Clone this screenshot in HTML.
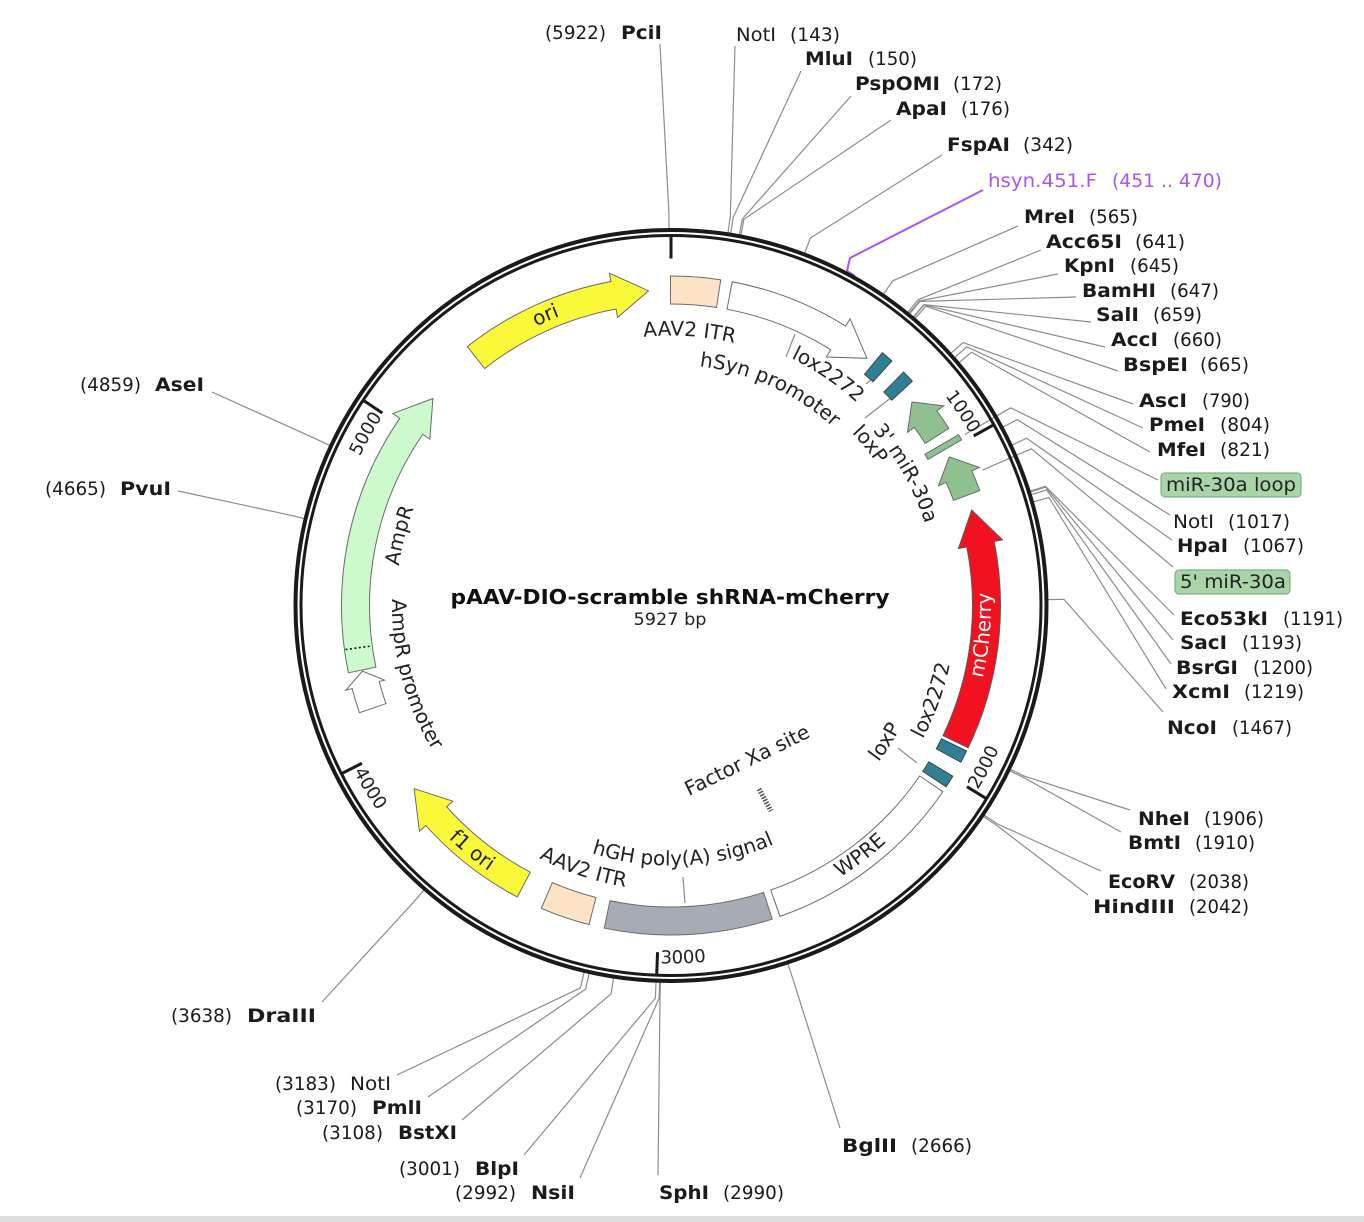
<!DOCTYPE html>
<html><head><meta charset="utf-8"><style>
html,body{margin:0;padding:0;background:#fff;}
svg{display:block;}
text{font-family:"DejaVu Sans","Liberation Sans",sans-serif;}
</style></head><body>
<svg width="1364" height="1222" viewBox="0 0 1364 1222" xmlns="http://www.w3.org/2000/svg">
<defs>
 <path id="cw310" d="M671,915.5 A310,310 0 1 1 671,295.5 A310,310 0 1 1 671,915.5"/>
 <path id="cw270" d="M671,875.5 A270,270 0 1 1 671,335.5 A270,270 0 1 1 671,875.5"/>
 <path id="cw241" d="M671,846.5 A241,241 0 1 1 671,364.5 A241,241 0 1 1 671,846.5"/>
 <path id="cw275" d="M671,880.5 A275,275 0 1 1 671,330.5 A275,275 0 1 1 671,880.5"/>
 <path id="cw250" d="M671,855.5 A250,250 0 1 1 671,355.5 A250,250 0 1 1 671,855.5"/>
 <path id="cw267" d="M671,872.5 A267,267 0 1 1 671,338.5 A267,267 0 1 1 671,872.5"/>
 <path id="cw345" d="M671,950.5 A345,345 0 1 1 671,260.5 A345,345 0 1 1 671,950.5"/>
 <path id="ccw320" d="M671,285.5 A320,320 0 1 0 671,925.5 A320,320 0 1 0 671,285.5"/>
 <path id="ccw285" d="M671,320.5 A285,285 0 1 0 671,890.5 A285,285 0 1 0 671,320.5"/>
 <path id="ccw260" d="M671,345.5 A260,260 0 1 0 671,865.5 A260,260 0 1 0 671,345.5"/>
 <path id="ccw322" d="M671,283.5 A322,322 0 1 0 671,927.5 A322,322 0 1 0 671,283.5"/>
 <path id="ccw279" d="M671,326.5 A279,279 0 1 0 671,884.5 A279,279 0 1 0 671,326.5"/>
 <path id="ccw358" d="M671,247.5 A358,358 0 1 0 671,963.5 A358,358 0 1 0 671,247.5"/>
</defs>
<rect x="0" y="0" width="1364" height="1222" fill="#fff"/>
<rect x="0" y="1216" width="1364" height="6" fill="#dedede"/>

<!-- restriction site leader lines -->
<g fill="none" stroke="#8c8c8c" stroke-width="1.2">
<polyline points="669.0,228.5 668.9,212.5 660,44"/>
<polyline points="727.9,232.8 730.3,217.0 735,46"/>
<polyline points="730.7,233.3 733.2,217.5 801,71"/>
<polyline points="739.4,234.8 742.3,219.0 851,96"/>
<polyline points="740.9,235.1 743.9,219.3 891,120"/>
<polyline points="804.7,253.0 810.4,238.0 942,155"/>
<polyline points="883.6,294.1 892.6,280.9 1018,226"/>
<polyline points="907.9,312.2 918.0,299.8 1041,250"/>
<polyline points="909.2,313.3 919.3,300.9 1058,274"/>
<polyline points="909.8,313.8 919.9,301.4 1076,297"/>
<polyline points="913.5,316.8 923.8,304.6 1091,322"/>
<polyline points="913.8,317.1 924.1,304.9 1105,347"/>
<polyline points="915.3,318.3 925.7,306.2 1118,371"/>
<polyline points="951.1,353.2 963.0,342.5 1133,404"/>
<polyline points="954.8,357.4 966.8,346.8 1143,428"/>
<polyline points="959.3,362.5 971.5,352.2 1150,452"/>
<polyline points="964.9,434.5 1010.7,407.8 1158,480"/>
<polyline points="1003.1,427.1 1017.2,419.6 1170,515"/>
<polyline points="1012.1,445.1 1026.6,438.2 1172,540"/>
<polyline points="982.8,469.9 1031.4,448.8 1173,567"/>
<polyline points="1030.2,491.1 1045.5,486.3 1174,615"/>
<polyline points="1030.5,491.9 1045.7,487.1 1173,640"/>
<polyline points="1031.3,494.6 1046.6,489.9 1171,664"/>
<polyline points="1033.5,501.8 1048.9,497.4 1166,689"/>
<polyline points="1048.0,599.6 1064.0,599.3 1163,712"/>
<polyline points="1010.5,769.4 1024.9,776.3 1130,810"/>
<polyline points="1009.8,770.8 1024.2,777.8 1121,832"/>
<polyline points="984.3,815.2 997.6,824.0 1101,871"/>
<polyline points="983.5,816.5 996.7,825.4 1088,895"/>
<polyline points="787.9,963.9 792.9,979.1 840,1128"/>
<polyline points="660.4,982.4 660.0,998.3 658,1175"/>
<polyline points="659.6,982.3 659.1,998.3 580,1178"/>
<polyline points="656.0,982.2 655.4,998.2 524,1155"/>
<polyline points="613.5,978.1 611.0,993.9 462,1120"/>
<polyline points="589.1,973.5 585.6,989.1 428,1097"/>
<polyline points="584.1,972.4 580.4,987.9 397,1075"/>
<polyline points="423.8,890.2 413.4,902.3 322,1002"/>
<polyline points="304.2,518.5 288.6,514.8 178,491"/>
<polyline points="329.7,445.4 315.2,438.6 212,392"/>
<!-- feature label leaders -->
<line x1="795" y1="334" x2="786" y2="357"/>
<line x1="866" y1="384" x2="874" y2="377"/>
<line x1="865" y1="418" x2="892" y2="397"/>
<line x1="683" y1="877" x2="685" y2="903"/>
<line x1="898" y1="748" x2="917" y2="763"/>
</g>

<!-- primer -->
<polyline points="983,190 850,258 847,271 855,276" fill="none" stroke="#a855f7" stroke-width="2"/>

<!-- backbone circle -->
<circle cx="671" cy="605.5" r="375.5" fill="none" stroke="#1a1a1a" stroke-width="4"/>
<circle cx="671" cy="605.5" r="370" fill="none" stroke="#1a1a1a" stroke-width="3"/>

<!-- ticks -->
<g stroke="#1a1a1a" stroke-width="3">
<line x1="671" y1="236.5" x2="671" y2="258.5"/>
<line x1="671" y1="236.5" x2="671" y2="258.5" transform="rotate(60.74 671 605.5)"/>
<line x1="671" y1="236.5" x2="671" y2="258.5" transform="rotate(121.48 671 605.5)"/>
<line x1="671" y1="236.5" x2="671" y2="258.5" transform="rotate(182.22 671 605.5)"/>
<line x1="671" y1="236.5" x2="671" y2="258.5" transform="rotate(242.96 671 605.5)"/>
<line x1="671" y1="236.5" x2="671" y2="258.5" transform="rotate(303.70 671 605.5)"/>
</g>

<!-- features -->
<g fill="none">
<!-- AAV2 ITR top -->
<circle cx="671" cy="605.5" r="315.5" stroke="#6b6b6b" stroke-width="29" pathLength="360" stroke-dasharray="8.96 400" transform="rotate(-90.18 671 605.5)"/>
<circle cx="671" cy="605.5" r="315.5" stroke="#fde2c6" stroke-width="27" pathLength="360" stroke-dasharray="8.6 400" transform="rotate(-90 671 605.5)"/>
<!-- hSyn promoter -->
<circle cx="671" cy="605.5" r="315.5" stroke="#6b6b6b" stroke-width="29" pathLength="360" stroke-dasharray="21.38 400" transform="rotate(-79.38 671 605.5)"/>
<polygon points="671,267.5 706.2,292 671,312.5" fill="#fff" stroke="#6b6b6b" stroke-width="1" transform="rotate(32 671 605.5)"/>
<circle cx="671" cy="605.5" r="315.5" stroke="#fff" stroke-width="27" pathLength="360" stroke-dasharray="21.5 400" transform="rotate(-79.2 671 605.5)"/>
<!-- ori -->
<circle cx="671" cy="605.5" r="315.5" stroke="#6b6b6b" stroke-width="29" pathLength="360" stroke-dasharray="27.78 400" transform="rotate(231.72 671 605.5)"/>
<polygon points="671,267.5 706.2,292 671,312.5" fill="#f9f93a" stroke="#6b6b6b" stroke-width="1" transform="rotate(349.5 671 605.5)"/>
<circle cx="671" cy="605.5" r="315.5" stroke="#f9f93a" stroke-width="27" pathLength="360" stroke-dasharray="27.9 400" transform="rotate(231.9 671 605.5)"/>
<!-- AmpR -->
<circle cx="671" cy="605.5" r="315.5" stroke="#6b6b6b" stroke-width="29" pathLength="360" stroke-dasharray="46.48 400" transform="rotate(168.12 671 605.5)"/>
<polygon points="671,267.5 706.2,292 671,312.5" fill="#ccfacc" stroke="#6b6b6b" stroke-width="1" transform="rotate(304.6 671 605.5)"/>
<circle cx="671" cy="605.5" r="315.5" stroke="#ccfacc" stroke-width="27" pathLength="360" stroke-dasharray="46.6 400" transform="rotate(168.3 671 605.5)"/>
<line x1="671" y1="277" x2="671" y2="303.5" stroke="#111" stroke-width="1.6" stroke-dasharray="2 2.5" transform="rotate(262.3 671 605.5)"/>
<!-- AmpR promoter -->
<circle cx="671" cy="605.5" r="315.5" stroke="#6b6b6b" stroke-width="29" pathLength="360" stroke-dasharray="4.48 400" transform="rotate(160.92 671 605.5)"/>
<polygon points="671,269.5 685.3,290.3 671,309.5" fill="#fff" stroke="#6b6b6b" stroke-width="1" transform="rotate(255.4 671 605.5)"/>
<circle cx="671" cy="605.5" r="315.5" stroke="#fff" stroke-width="27" pathLength="360" stroke-dasharray="4.6 400" transform="rotate(161.1 671 605.5)"/>
<!-- f1 ori -->
<circle cx="671" cy="605.5" r="315.5" stroke="#6b6b6b" stroke-width="29" pathLength="360" stroke-dasharray="20.38 400" transform="rotate(117.72 671 605.5)"/>
<polygon points="671,267.5 706.2,292 671,312.5" fill="#f9f93a" stroke="#6b6b6b" stroke-width="1" transform="rotate(228.1 671 605.5)"/>
<circle cx="671" cy="605.5" r="315.5" stroke="#f9f93a" stroke-width="27" pathLength="360" stroke-dasharray="20.5 400" transform="rotate(117.9 671 605.5)"/>
<!-- mCherry -->
<circle cx="671" cy="605.5" r="315.5" stroke="#5a5a5a" stroke-width="29" pathLength="360" stroke-dasharray="36.88 400" transform="rotate(-11.2 671 605.5)"/>
<polygon points="671,267.5 635.8,292 671,312.5" fill="#f2121f" stroke="#5a5a5a" stroke-width="1" transform="rotate(78.8 671 605.5)"/>
<circle cx="671" cy="605.5" r="315.5" stroke="#f2121f" stroke-width="27" pathLength="360" stroke-dasharray="37.0 400" transform="rotate(-11.5 671 605.5)"/>
<!-- 3' miR-30a -->
<circle cx="671" cy="605.5" r="315.5" stroke="#6b6b6b" stroke-width="29" pathLength="360" stroke-dasharray="3.78 400" transform="rotate(-36.2 671 605.5)"/>
<polygon points="671,267.5 649,290.8 671,312.5" fill="#8fc08f" stroke="#6b6b6b" stroke-width="1" transform="rotate(53.8 671 605.5)"/>
<circle cx="671" cy="605.5" r="315.5" stroke="#8fc08f" stroke-width="27" pathLength="360" stroke-dasharray="3.9 400" transform="rotate(-36.5 671 605.5)"/>
<!-- 5' miR-30a -->
<circle cx="671" cy="605.5" r="315.5" stroke="#6b6b6b" stroke-width="29" pathLength="360" stroke-dasharray="3.78 400" transform="rotate(-24.1 671 605.5)"/>
<polygon points="671,267.5 649,290.8 671,312.5" fill="#8fc08f" stroke="#6b6b6b" stroke-width="1" transform="rotate(65.9 671 605.5)"/>
<circle cx="671" cy="605.5" r="315.5" stroke="#8fc08f" stroke-width="27" pathLength="360" stroke-dasharray="3.9 400" transform="rotate(-24.4 671 605.5)"/>
<!-- miR-30a loop -->
<rect x="668" y="271" width="6" height="39" fill="#8fc08f" stroke="#6b6b6b" stroke-width="1" transform="rotate(59.8 671 605.5)"/>
<!-- lox sites -->
<circle cx="671" cy="605.5" r="315.5" stroke="#444" stroke-width="29" pathLength="360" stroke-dasharray="2.36 400" transform="rotate(-50.18 671 605.5)"/>
<circle cx="671" cy="605.5" r="315.5" stroke="#2f7f95" stroke-width="27" pathLength="360" stroke-dasharray="2.0 400" transform="rotate(-50 671 605.5)"/>
<circle cx="671" cy="605.5" r="315.5" stroke="#444" stroke-width="29" pathLength="360" stroke-dasharray="2.36 400" transform="rotate(-45.18 671 605.5)"/>
<circle cx="671" cy="605.5" r="315.5" stroke="#2f7f95" stroke-width="27" pathLength="360" stroke-dasharray="2.0 400" transform="rotate(-45 671 605.5)"/>
<circle cx="671" cy="605.5" r="315.5" stroke="#444" stroke-width="29" pathLength="360" stroke-dasharray="2.36 400" transform="rotate(26.12 671 605.5)"/>
<circle cx="671" cy="605.5" r="315.5" stroke="#2f7f95" stroke-width="27" pathLength="360" stroke-dasharray="2.0 400" transform="rotate(26.3 671 605.5)"/>
<circle cx="671" cy="605.5" r="315.5" stroke="#444" stroke-width="29" pathLength="360" stroke-dasharray="2.36 400" transform="rotate(31.12 671 605.5)"/>
<circle cx="671" cy="605.5" r="315.5" stroke="#2f7f95" stroke-width="27" pathLength="360" stroke-dasharray="2.0 400" transform="rotate(31.3 671 605.5)"/>
<!-- WPRE -->
<circle cx="671" cy="605.5" r="315.5" stroke="#6b6b6b" stroke-width="29" pathLength="360" stroke-dasharray="36.46 400" transform="rotate(34.32 671 605.5)"/>
<circle cx="671" cy="605.5" r="315.5" stroke="#fff" stroke-width="27" pathLength="360" stroke-dasharray="36.1 400" transform="rotate(34.5 671 605.5)"/>
<!-- hGH polyA -->
<circle cx="671" cy="605.5" r="315.5" stroke="#6b6b6b" stroke-width="29" pathLength="360" stroke-dasharray="29.76 400" transform="rotate(72.02 671 605.5)"/>
<circle cx="671" cy="605.5" r="315.5" stroke="#a6acb5" stroke-width="27" pathLength="360" stroke-dasharray="29.4 400" transform="rotate(72.2 671 605.5)"/>
<!-- AAV2 ITR bottom -->
<circle cx="671" cy="605.5" r="315.5" stroke="#6b6b6b" stroke-width="29" pathLength="360" stroke-dasharray="8.96 400" transform="rotate(104.32 671 605.5)"/>
<circle cx="671" cy="605.5" r="315.5" stroke="#fde2c6" stroke-width="27" pathLength="360" stroke-dasharray="8.6 400" transform="rotate(104.5 671 605.5)"/>
</g>

<!-- Factor Xa site mark -->
<line x1="759" y1="789" x2="771" y2="811" stroke="#555" stroke-width="5" stroke-dasharray="1.6 1.4"/>

<!-- feature labels (curved) -->
<g font-size="20" fill="#222">
<text><textPath href="#cw310" startOffset="43.5%" text-anchor="middle">ori</textPath></text>
<text><textPath href="#cw270" startOffset="51.08%" text-anchor="middle">AAV2 ITR</textPath></text>
<text><textPath href="#cw241" startOffset="56.81%" text-anchor="middle">hSyn promoter</textPath></text>
<text><textPath href="#cw275" startOffset="59.5%" text-anchor="middle">lox2272</textPath></text>
<text><textPath href="#cw250" startOffset="64.17%" text-anchor="middle">loxP</textPath></text>
<text><textPath href="#cw267" startOffset="66.83%" text-anchor="middle">3' miR-30a</textPath></text>
<text><textPath href="#cw275" startOffset="29.03%" text-anchor="middle">AmpR</textPath></text>
<text fill="#fff"><textPath href="#ccw320" startOffset="73.5%" text-anchor="middle">mCherry</textPath></text>
<text><textPath href="#ccw285" startOffset="69.47%" text-anchor="middle">lox2272</textPath></text>
<text><textPath href="#ccw260" startOffset="65.97%" text-anchor="middle">loxP</textPath></text>
<text><textPath href="#ccw320" startOffset="60.31%" text-anchor="middle">WPRE</textPath></text>
<text><textPath href="#ccw260" startOffset="50.78%" text-anchor="middle">hGH poly(A) signal</textPath></text>
<text><textPath href="#ccw285" startOffset="44.89%" text-anchor="middle">AAV2 ITR</textPath></text>
<text><textPath href="#ccw322" startOffset="39.14%" text-anchor="middle">f1 ori</textPath></text>
<text><textPath href="#ccw279" startOffset="29.17%" text-anchor="middle">AmpR promoter</textPath></text>
<text transform="rotate(-26 747 760)" x="747" y="767" text-anchor="middle">Factor Xa site</text>
</g>

<!-- tick numbers -->
<g font-size="18" fill="#222">
<text><textPath href="#cw345" startOffset="66.72%" text-anchor="end">1000</textPath></text>
<text><textPath href="#cw345" startOffset="34.22%" text-anchor="end">5000</textPath></text>
<text><textPath href="#ccw358" startOffset="66.39%" text-anchor="start">2000</textPath></text>
<text><textPath href="#ccw358" startOffset="49.53%" text-anchor="start">3000</textPath></text>
<text><textPath href="#ccw358" startOffset="32.67%" text-anchor="start">4000</textPath></text>
</g>

<!-- title -->
<text x="670" y="604" font-size="20" font-weight="bold" fill="#111" text-anchor="middle" textLength="439" lengthAdjust="spacingAndGlyphs">pAAV-DIO-scramble shRNA-mCherry</text>
<text x="670" y="625" font-size="17" fill="#222" text-anchor="middle" textLength="73" lengthAdjust="spacingAndGlyphs">5927 bp</text>

<!-- green feature label boxes -->
<rect x="1161" y="473" width="140" height="24" rx="4" fill="#a9d4a9" stroke="#7db47d" stroke-width="1.2"/>
<text x="1166" y="491" font-size="19" fill="#222" textLength="130" lengthAdjust="spacingAndGlyphs">miR-30a loop</text>
<rect x="1175" y="570" width="115" height="24" rx="4" fill="#a9d4a9" stroke="#7db47d" stroke-width="1.2"/>
<text x="1180" y="588" font-size="19" fill="#222" textLength="106" lengthAdjust="spacingAndGlyphs">5' miR-30a</text>

<!-- restriction labels -->
<g font-size="19" fill="#1b1b1b" lengthAdjust="spacingAndGlyphs">
<text x="545" y="39" textLength="61" lengthAdjust="spacingAndGlyphs">(5922)</text>
<text x="621" y="39" font-weight="bold" textLength="41" lengthAdjust="spacingAndGlyphs">PciI</text>
<text x="736" y="41" textLength="40" lengthAdjust="spacingAndGlyphs">NotI</text>
<text x="790" y="41" textLength="50" lengthAdjust="spacingAndGlyphs">(143)</text>
<text x="805" y="65" font-weight="bold" textLength="48" lengthAdjust="spacingAndGlyphs">MluI</text>
<text x="868" y="65" textLength="49" lengthAdjust="spacingAndGlyphs">(150)</text>
<text x="855" y="90" font-weight="bold" textLength="85" lengthAdjust="spacingAndGlyphs">PspOMI</text>
<text x="953" y="90" textLength="49" lengthAdjust="spacingAndGlyphs">(172)</text>
<text x="896" y="115" font-weight="bold" textLength="51" lengthAdjust="spacingAndGlyphs">ApaI</text>
<text x="961" y="115" textLength="49" lengthAdjust="spacingAndGlyphs">(176)</text>
<text x="947" y="151" font-weight="bold" textLength="63" lengthAdjust="spacingAndGlyphs">FspAI</text>
<text x="1023" y="151" textLength="50" lengthAdjust="spacingAndGlyphs">(342)</text>
<text x="988" y="187" fill="#a855f7" textLength="109" lengthAdjust="spacingAndGlyphs">hsyn.451.F</text>
<text x="1112" y="187" fill="#a855f7" textLength="110" lengthAdjust="spacingAndGlyphs">(451 .. 470)</text>
<text x="1024" y="223" font-weight="bold" textLength="51" lengthAdjust="spacingAndGlyphs">MreI</text>
<text x="1089" y="223" textLength="49" lengthAdjust="spacingAndGlyphs">(565)</text>
<text x="1046" y="248" font-weight="bold" textLength="76" lengthAdjust="spacingAndGlyphs">Acc65I</text>
<text x="1135" y="248" textLength="50" lengthAdjust="spacingAndGlyphs">(641)</text>
<text x="1064" y="272" font-weight="bold" textLength="51" lengthAdjust="spacingAndGlyphs">KpnI</text>
<text x="1130" y="272" textLength="49" lengthAdjust="spacingAndGlyphs">(645)</text>
<text x="1082" y="297" font-weight="bold" textLength="74" lengthAdjust="spacingAndGlyphs">BamHI</text>
<text x="1170" y="297" textLength="49" lengthAdjust="spacingAndGlyphs">(647)</text>
<text x="1096" y="321" font-weight="bold" textLength="43" lengthAdjust="spacingAndGlyphs">SalI</text>
<text x="1153" y="321" textLength="49" lengthAdjust="spacingAndGlyphs">(659)</text>
<text x="1111" y="346" font-weight="bold" textLength="47" lengthAdjust="spacingAndGlyphs">AccI</text>
<text x="1173" y="346" textLength="49" lengthAdjust="spacingAndGlyphs">(660)</text>
<text x="1123" y="371" font-weight="bold" textLength="65" lengthAdjust="spacingAndGlyphs">BspEI</text>
<text x="1200" y="371" textLength="49" lengthAdjust="spacingAndGlyphs">(665)</text>
<text x="1139" y="407" font-weight="bold" textLength="48" lengthAdjust="spacingAndGlyphs">AscI</text>
<text x="1202" y="407" textLength="48" lengthAdjust="spacingAndGlyphs">(790)</text>
<text x="1149" y="431" font-weight="bold" textLength="56" lengthAdjust="spacingAndGlyphs">PmeI</text>
<text x="1220" y="431" textLength="50" lengthAdjust="spacingAndGlyphs">(804)</text>
<text x="1157" y="456" font-weight="bold" textLength="49" lengthAdjust="spacingAndGlyphs">MfeI</text>
<text x="1220" y="456" textLength="50" lengthAdjust="spacingAndGlyphs">(821)</text>
<text x="1173" y="528" textLength="41" lengthAdjust="spacingAndGlyphs">NotI</text>
<text x="1228" y="528" textLength="62" lengthAdjust="spacingAndGlyphs">(1017)</text>
<text x="1177" y="552" font-weight="bold" textLength="51" lengthAdjust="spacingAndGlyphs">HpaI</text>
<text x="1243" y="552" textLength="61" lengthAdjust="spacingAndGlyphs">(1067)</text>
<text x="1180" y="625" font-weight="bold" textLength="88" lengthAdjust="spacingAndGlyphs">Eco53kI</text>
<text x="1283" y="625" textLength="60" lengthAdjust="spacingAndGlyphs">(1191)</text>
<text x="1180" y="649" font-weight="bold" textLength="47" lengthAdjust="spacingAndGlyphs">SacI</text>
<text x="1242" y="649" textLength="60" lengthAdjust="spacingAndGlyphs">(1193)</text>
<text x="1176" y="674" font-weight="bold" textLength="62" lengthAdjust="spacingAndGlyphs">BsrGI</text>
<text x="1253" y="674" textLength="60" lengthAdjust="spacingAndGlyphs">(1200)</text>
<text x="1172" y="698" font-weight="bold" textLength="58" lengthAdjust="spacingAndGlyphs">XcmI</text>
<text x="1244" y="698" textLength="60" lengthAdjust="spacingAndGlyphs">(1219)</text>
<text x="1167" y="734" font-weight="bold" textLength="50" lengthAdjust="spacingAndGlyphs">NcoI</text>
<text x="1232" y="734" textLength="60" lengthAdjust="spacingAndGlyphs">(1467)</text>
<text x="1138" y="825" font-weight="bold" textLength="52" lengthAdjust="spacingAndGlyphs">NheI</text>
<text x="1204" y="825" textLength="60" lengthAdjust="spacingAndGlyphs">(1906)</text>
<text x="1128" y="849" font-weight="bold" textLength="53" lengthAdjust="spacingAndGlyphs">BmtI</text>
<text x="1195" y="849" textLength="60" lengthAdjust="spacingAndGlyphs">(1910)</text>
<text x="1108" y="888" font-weight="bold" textLength="67" lengthAdjust="spacingAndGlyphs">EcoRV</text>
<text x="1189" y="888" textLength="60" lengthAdjust="spacingAndGlyphs">(2038)</text>
<text x="1093" y="913" font-weight="bold" textLength="82" lengthAdjust="spacingAndGlyphs">HindIII</text>
<text x="1189" y="913" textLength="60" lengthAdjust="spacingAndGlyphs">(2042)</text>
<text x="842" y="1152" font-weight="bold" textLength="55" lengthAdjust="spacingAndGlyphs">BglII</text>
<text x="911" y="1152" textLength="61" lengthAdjust="spacingAndGlyphs">(2666)</text>
<text x="659" y="1199" font-weight="bold" textLength="50" lengthAdjust="spacingAndGlyphs">SphI</text>
<text x="723" y="1199" textLength="61" lengthAdjust="spacingAndGlyphs">(2990)</text>
<text x="455" y="1199" textLength="61" lengthAdjust="spacingAndGlyphs">(2992)</text>
<text x="531" y="1199" font-weight="bold" textLength="44" lengthAdjust="spacingAndGlyphs">NsiI</text>
<text x="399" y="1175" textLength="61" lengthAdjust="spacingAndGlyphs">(3001)</text>
<text x="475" y="1175" font-weight="bold" textLength="44" lengthAdjust="spacingAndGlyphs">BlpI</text>
<text x="322" y="1139" textLength="61" lengthAdjust="spacingAndGlyphs">(3108)</text>
<text x="398" y="1139" font-weight="bold" textLength="59" lengthAdjust="spacingAndGlyphs">BstXI</text>
<text x="296" y="1114" textLength="61" lengthAdjust="spacingAndGlyphs">(3170)</text>
<text x="372" y="1114" font-weight="bold" textLength="50" lengthAdjust="spacingAndGlyphs">PmlI</text>
<text x="275" y="1090" textLength="61" lengthAdjust="spacingAndGlyphs">(3183)</text>
<text x="350" y="1090" textLength="41" lengthAdjust="spacingAndGlyphs">NotI</text>
<text x="171" y="1022" textLength="61" lengthAdjust="spacingAndGlyphs">(3638)</text>
<text x="247" y="1022" font-weight="bold" textLength="69" lengthAdjust="spacingAndGlyphs">DraIII</text>
<text x="45" y="495" textLength="61" lengthAdjust="spacingAndGlyphs">(4665)</text>
<text x="120" y="495" font-weight="bold" textLength="51" lengthAdjust="spacingAndGlyphs">PvuI</text>
<text x="80" y="391" textLength="61" lengthAdjust="spacingAndGlyphs">(4859)</text>
<text x="155" y="391" font-weight="bold" textLength="49" lengthAdjust="spacingAndGlyphs">AseI</text>
</g>
</svg>
</body></html>
